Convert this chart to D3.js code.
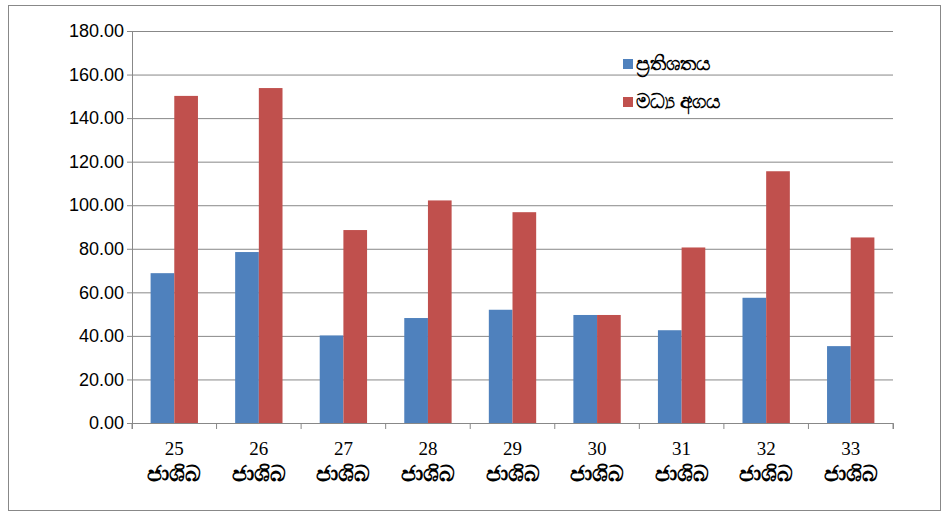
<!DOCTYPE html>
<html><head><meta charset="utf-8">
<script src="https://cdn.jsdelivr.net/npm/d3@7"></script>
<style>body{margin:0;background:#fff}</style>
</head><body><div id="chart"></div>
<script>
const categories = ["25", "26", "27", "28", "29", "30", "31", "32", "33"];
const catSuffix = "ජාශිබ";
const percent = [68.8, 78.5, 40.2, 48.2, 52.0, 49.6, 42.6, 57.5, 35.3];
const meanVal = [150.2, 153.8, 88.6, 102.2, 96.8, 49.6, 80.6, 115.6, 85.2];
const seriesNames = ["ප්‍රතිශතය", "මධ්‍ය අගය"];
const colors = ["#4f81bd", "#c0504d"];
const yTicks = [0, 20, 40, 60, 80, 100, 120, 140, 160, 180];

const width = 942, height = 516;
const margin = { top: 31, right: 49, bottom: 93, left: 132 };

const svg = d3.select("#chart").append("svg").attr("width", width).attr("height", height);
svg.append("rect").attr("x", 8.5).attr("y", 5.5).attr("width", 932).attr("height", 505)
  .attr("fill", "#fff").attr("stroke", "#888");

const x = d3.scaleBand().domain(categories).range([margin.left, width - margin.right]);
const y = d3.scaleLinear().domain([0, 180]).range([height - margin.bottom, margin.top]);

svg.append("g").selectAll("line").data(yTicks).join("line")
  .attr("x1", margin.left).attr("x2", width - margin.right)
  .attr("y1", d => y(d) + 0.5).attr("y2", d => y(d) + 0.5).attr("stroke", "#888");

const bw = x.bandwidth() * 0.28;
const g = svg.append("g").selectAll("g").data(categories).join("g")
  .attr("transform", d => `translate(${x(d) + x.bandwidth() / 2},0)`);
g.append("rect").attr("x", -bw).attr("width", bw)
  .attr("y", (d, i) => y(percent[i])).attr("height", (d, i) => y(0) - y(percent[i])).attr("fill", colors[0]);
g.append("rect").attr("x", 0).attr("width", bw)
  .attr("y", (d, i) => y(meanVal[i])).attr("height", (d, i) => y(0) - y(meanVal[i])).attr("fill", colors[1]);

const ya = svg.append("g").attr("transform", `translate(${margin.left},0)`)
  .call(d3.axisLeft(y).tickValues(yTicks).tickFormat(d3.format(".2f")).tickSize(5));
ya.selectAll("text").attr("font-family", "Arial, Liberation Sans").attr("font-size", 18).attr("fill", "#000");
ya.selectAll("line,path").attr("stroke", "#888");

const xa = svg.append("g").attr("transform", `translate(0,${y(0)})`)
  .call(d3.axisBottom(x).tickSize(6).tickFormat(""));
xa.selectAll("path,line").attr("stroke", "#888");
xa.selectAll(".tick line").attr("transform", `translate(${-x.bandwidth() / 2},0)`);
svg.append("line").attr("x1", width - margin.right).attr("x2", width - margin.right)
  .attr("y1", y(0)).attr("y2", y(0) + 6).attr("stroke", "#888");

const lab = svg.append("g").selectAll("text").data(categories).join("text")
  .attr("x", d => x(d) + x.bandwidth() / 2).attr("text-anchor", "middle")
  .attr("font-family", "Liberation Serif, serif").attr("font-size", 19).attr("fill", "#000");
lab.append("tspan").attr("x", d => x(d) + x.bandwidth() / 2).attr("y", 455).text(d => d);
lab.append("tspan").attr("x", d => x(d) + x.bandwidth() / 2).attr("y", 481)
  .attr("font-size", 22).attr("font-weight", "bold").text(catSuffix);

const leg = svg.append("g").selectAll("g").data(seriesNames).join("g")
  .attr("transform", (d, i) => `translate(623,${59 + i * 38})`);
leg.append("rect").attr("width", 10).attr("height", 10).attr("fill", (d, i) => colors[i]);
leg.append("text").attr("x", 13).attr("y", 11).attr("font-size", 20).attr("font-weight", "bold")
  .attr("font-family", "Noto Sans, sans-serif").text(d => d);
</script></body></html>
